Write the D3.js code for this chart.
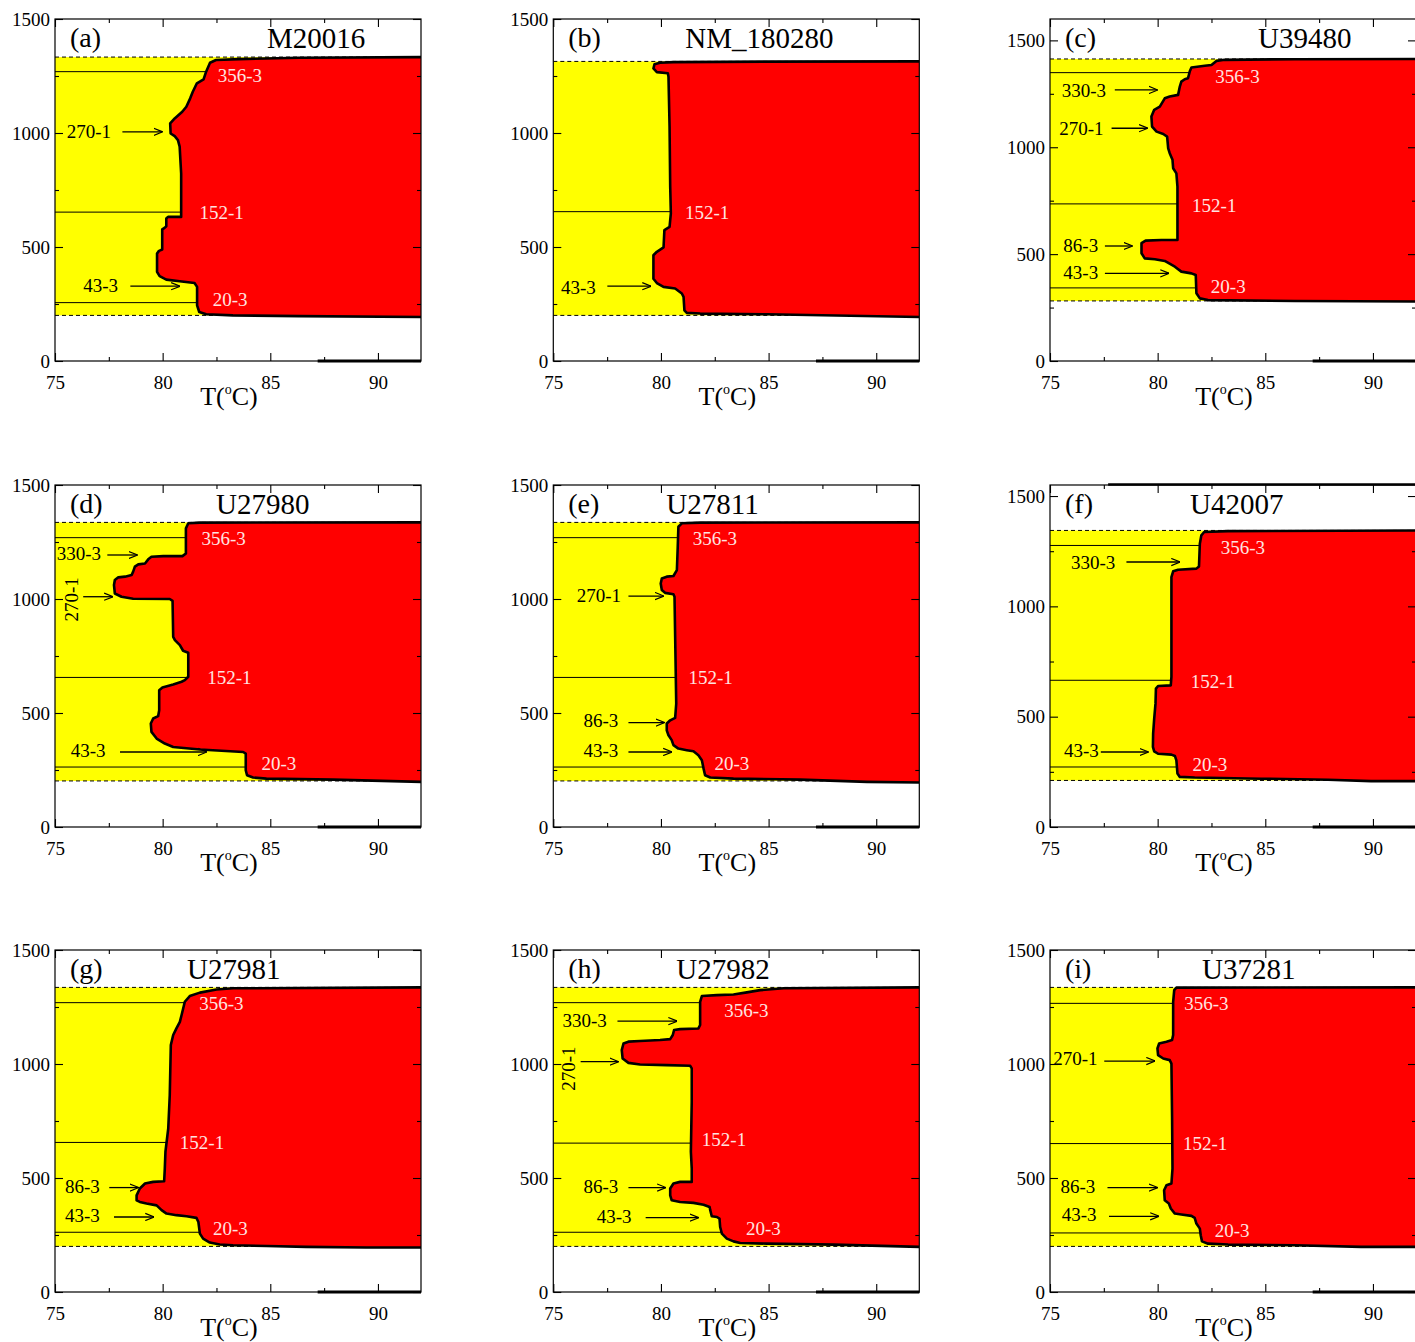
<!DOCTYPE html>
<html>
<head>
<meta charset="utf-8">
<script src="https://cdnjs.cloudflare.com/ajax/libs/d3/7.8.5/d3.min.js"></script>
<style>
  body { margin: 0; background: #fff; }
  text { font-family: "Liberation Serif", "Times New Roman", serif; }
</style>
</head>
<body>
<script>
// panel values
var panelTags = ["(a)", "(b)", "(c)", "(d)", "(e)", "(f)", "(g)", "(h)", "(i)"];
var geneNames = ["M20016", "NM_180280", "U39480", "U27980", "U27811", "U42007", "U27981", "U27982", "U37281"];
var yMaxes = [1500, 1500, 1600, 1500, 1500, 1550, 1500, 1500, 1500];
var bandLow = [200, 200, 281, 202, 202, 211, 200, 200, 200];
var bandHigh = [1333, 1314, 1413, 1336, 1336, 1344, 1336, 1336, 1336];
var refLines = [[1269, 653, 256], [655], [1349, 735, 342], [1269, 656, 263], [1269, 656, 263],
                [1276, 665, 272], [1269, 656, 262], [1269, 653, 262], [1266, 651, 259]];
var titleT = [84.85, 81.13, 84.66, 82.48, 80.25, 81.5, 81.13, 80.71, 82.06];

var xTicks = [75, 80, 85, 90];
var xMinor = [77.5, 82.5, 87.5];
var yTicks = [0, 500, 1000, 1500];
var yMinor = [250, 750, 1250];

// melting boundary (T, length) : bottom edge -> left edge -> top edge
var boundaryA = [[92,193],[86.34,197],[83.26,200],[82.02,205],[81.7,215],[81.6,244],[81.6,325],[81.48,342],[80.79,350],[80.17,357],[79.86,372],[79.74,391],[79.74,471],[79.83,483],[79.98,489],[79.98,577],[80.09,584],[80.17,591],[80.17,625],[80.25,632],[80.86,632],[80.86,822],[80.79,940],[80.71,969],[80.56,986],[80.37,998],[80.35,1042],[80.56,1064],[80.91,1093],[81.1,1115],[81.28,1152],[81.4,1181],[81.59,1218],[81.9,1235],[82.02,1269],[82.2,1308],[82.48,1320],[83.56,1324],[86.34,1330],[92,1333]];
var boundaryB = [[92,193],[84.92,205],[81.82,208],[81.2,211],[81.09,222],[81.05,281],[80.97,296],[80.66,318],[80.12,325],[79.81,342],[79.65,361],[79.65,464],[79.81,479],[80.12,498],[80.16,574],[80.4,588],[80.46,647],[80.43,764],[80.4,1027],[80.35,1247],[80.32,1262],[79.81,1267],[79.65,1283],[79.7,1301],[79.96,1308],[80.58,1311],[84.92,1313],[92,1314]];
var boundaryC = [[92,278],[86.36,281],[82.34,285],[81.96,293],[81.8,317],[81.77,402],[81.57,410],[81.1,418],[80.8,441],[80.33,468],[79.87,476],[79.4,480],[79.25,504],[79.25,551],[79.44,563],[80.18,566],[80.92,566],[80.92,816],[80.87,878],[80.72,902],[80.69,941],[80.56,972],[80.49,995],[80.44,1050],[80.26,1062],[79.95,1073],[79.74,1097],[79.71,1144],[79.84,1175],[80.1,1190],[80.33,1229],[80.56,1237],[80.95,1245],[81.03,1284],[81.1,1307],[81.26,1318],[81.41,1323],[81.49,1354],[81.57,1373],[82.19,1381],[82.5,1385],[82.73,1404],[83.11,1409],[86.36,1412],[92,1413]];
var boundaryD = [[92,198],[87.91,208],[84.82,212],[84.2,217],[83.92,227],[83.86,249],[83.86,322],[83.74,329],[81.73,340],[80.49,351],[80.1,366],[79.72,388],[79.48,417],[79.45,454],[79.56,476],[79.79,486],[79.84,512],[79.84,600],[79.99,612],[80.49,625],[80.88,637],[81.03,644],[81.19,659],[81.19,764],[80.95,773],[80.8,798],[80.57,820],[80.49,834],[80.46,992],[80.33,1000],[78.63,1001],[78.09,1010],[77.78,1024],[77.74,1061],[77.78,1083],[77.94,1095],[78.25,1098],[78.56,1105],[78.63,1120],[78.71,1142],[78.87,1152],[79.18,1156],[79.33,1174],[79.48,1185],[80.03,1188],[80.92,1188],[81.08,1200],[81.08,1310],[81.19,1332],[81.73,1335],[92,1336]];
var boundaryE = [[92,195],[89.57,198],[86.47,208],[83.37,212],[82.29,217],[82.05,227],[81.98,256],[81.9,293],[81.74,315],[81.51,332],[81.2,337],[80.81,344],[80.58,359],[80.5,381],[80.35,402],[80.27,424],[80.27,454],[80.43,468],[80.66,479],[80.71,541],[80.66,834],[80.63,1010],[80.58,1021],[80.19,1027],[80.04,1039],[79.99,1068],[80.04,1090],[80.27,1098],[80.58,1101],[80.74,1127],[80.78,1229],[80.81,1317],[80.97,1332],[81.82,1335],[92,1336]];
var boundaryF = [[92,208],[89.91,208],[87.91,214],[84.81,219],[81.72,224],[81.03,227],[80.92,242],[80.87,302],[80.8,322],[80.64,328],[80.02,332],[79.84,343],[79.78,363],[79.79,423],[79.84,491],[79.9,559],[79.92,627],[80.02,639],[80.61,642],[80.64,680],[80.64,1133],[80.72,1159],[80.95,1166],[81.8,1171],[81.92,1181],[81.96,1284],[82.03,1322],[82.16,1337],[83.27,1341],[92,1344]];
var boundaryG = [[92,195],[89.46,195],[86.67,198],[84.82,202],[83.27,205],[82.65,208],[82.19,217],[81.88,234],[81.73,256],[81.66,307],[81.57,325],[81.11,332],[80.64,337],[80.18,344],[79.95,359],[79.72,380],[79.25,388],[78.94,395],[78.79,402],[78.79,424],[78.94,454],[79.18,476],[79.56,483],[80.07,486],[80.1,541],[80.13,615],[80.26,717],[80.33,863],[80.38,1083],[80.49,1127],[80.64,1156],[80.8,1185],[80.88,1215],[81.03,1273],[81.26,1298],[81.73,1313],[82.5,1327],[83.27,1332],[92,1336]];
var boundaryH = [[92,198],[91.12,200],[88.02,208],[84.92,212],[83.68,215],[83.37,222],[83.06,234],[82.83,256],[82.75,285],[82.72,322],[82.6,329],[82.36,332],[82.29,359],[82.26,373],[81.98,383],[81.51,391],[80.89,395],[80.5,402],[80.43,424],[80.43,454],[80.58,476],[80.89,483],[81.43,483],[81.43,541],[81.39,615],[81.43,834],[81.43,981],[81.36,992],[80.27,995],[79.03,998],[78.49,1005],[78.22,1024],[78.18,1061],[78.26,1090],[78.49,1098],[79.03,1101],[79.96,1105],[80.43,1109],[80.55,1127],[80.61,1149],[80.89,1153],[81.74,1156],[81.82,1171],[81.82,1273],[81.9,1298],[82.6,1302],[83.37,1305],[83.99,1314],[84.61,1324],[85.7,1332],[92,1336]];
var boundaryI = [[92,198],[89.45,198],[86.36,205],[83.27,208],[82.34,212],[82.06,222],[82.0,249],[81.96,278],[81.8,300],[81.72,325],[81.57,334],[81.1,340],[80.8,344],[80.61,366],[80.52,388],[80.33,402],[80.3,446],[80.41,468],[80.64,476],[80.69,541],[80.67,768],[80.64,1002],[80.56,1017],[80.26,1024],[80.02,1039],[79.99,1068],[80.07,1090],[80.41,1098],[80.67,1105],[80.72,1127],[80.72,1273],[80.77,1324],[80.87,1335],[92,1336]];
var boundaries = [boundaryA, boundaryB, boundaryC, boundaryD, boundaryE, boundaryF, boundaryG, boundaryH, boundaryI];

// domain labels: text, T, length, white?, rotated?
var labelsA = [["356-3",82.56,1225,1],["270-1",75.54,976,0],["152-1",81.71,625,1],["43-3",76.31,303,0],["20-3",82.33,240,1]];
var labelsB = [["152-1",81.12,625,1],["43-3",75.36,296,0]];
var labelsC = [["356-3",82.68,1300,1],["330-3",75.54,1237,0],["270-1",75.43,1058,0],["152-1",81.6,699,1],["86-3",75.62,512,0],["43-3",75.62,382,0],["20-3",82.47,317,1]];
var labelsD = [["356-3",81.8,1237,1],["330-3",75.08,1171,0],["270-1",75.77,998,0,1],["152-1",82.07,629,1],["43-3",75.73,307,0],["20-3",84.59,249,1]];
var labelsE = [["356-3",81.48,1237,1],["270-1",76.09,988,0],["152-1",81.28,629,1],["86-3",76.4,439,0],["43-3",76.4,307,0],["20-3",82.49,249,1]];
var labelsF = [["356-3",82.93,1239,1],["330-3",75.97,1171,0],["152-1",81.54,631,1],["43-3",75.65,317,0],["20-3",81.62,254,1]];
var labelsG = [["356-3",81.7,1237,1],["152-1",80.8,629,1],["86-3",75.46,435,0],["43-3",75.46,307,0],["20-3",82.34,249,1]];
var labelsH = [["356-3",82.94,1207,1],["330-3",75.43,1163,0],["270-1",75.7,980,0,1],["152-1",81.9,641,1],["86-3",76.4,435,0],["43-3",77.02,304,0],["20-3",83.95,252,1]];
var labelsI = [["356-3",81.23,1237,1],["270-1",75.15,994,0],["152-1",81.18,622,1],["86-3",75.49,436,0],["43-3",75.54,310,0],["20-3",82.65,242,1]];
var labels = [labelsA, labelsB, labelsC, labelsD, labelsE, labelsF, labelsG, labelsH, labelsI];

// arrows: T start, T end, length
var arrowsA = [[78.13,79.98,1005],[78.5,80.79,328]];
var arrowsB = [[77.51,79.53,328]];
var arrowsC = [[78.01,79.99,1268],[77.86,79.53,1089],[77.55,78.82,538],[77.55,80.52,410]];
var arrowsD = [[77.43,78.82,1193],[76.31,77.68,1010],[78.02,82.04,329]];
var arrowsE = [[78.49,80.12,1013],[78.49,80.15,458],[78.49,80.5,329]];
var arrowsF = [[78.55,81.03,1201],[77.36,79.56,340]];
var arrowsG = [[77.52,78.87,458],[77.74,79.59,329]];
var arrowsH = [[77.98,80.74,1188],[76.27,78.02,1010],[78.49,80.22,458],[79.29,81.74,326]];
var arrowsI = [[77.52,79.87,1013],[77.67,79.99,458],[77.74,80.05,332]];
var arrows = [arrowsA, arrowsB, arrowsC, arrowsD, arrowsE, arrowsF, arrowsG, arrowsH, arrowsI];

var w = 1415, h = 1342;
var colLeft = [55, 553.3, 1050];
var rowTop = [19, 485, 950];
var pw = 366, ph = 342;

var svg = d3.select("body").append("svg")
    .attr("width", w)
    .attr("height", h);

var defs = svg.append("defs");
defs.append("marker")
    .attr("id", "arr")
    .attr("viewBox", "0 -5 10 10")
    .attr("refX", 9.5).attr("refY", 0)
    .attr("markerUnits", "userSpaceOnUse")
    .attr("markerWidth", 9).attr("markerHeight", 9)
    .attr("orient", "auto")
    .append("path")
    .attr("d", "M0,-4L10,0L0,4")
    .attr("fill", "none")
    .attr("stroke", "#000")
    .attr("stroke-width", 1.3);

panelTags.forEach(function(tag, i) {
  var left = colLeft[i % 3], top = rowTop[Math.floor(i / 3)];
  var x = d3.scaleLinear().domain([75, 92]).range([left, left + pw]);
  var y = d3.scaleLinear().domain([0, yMaxes[i]]).range([top + ph, top]);
  var g = svg.append("g");

  defs.append("clipPath").attr("id", "clip" + i)
    .append("rect").attr("x", left).attr("y", top).attr("width", pw).attr("height", ph);

  var plot = g.append("g").attr("clip-path", "url(#clip" + i + ")");

  // yellow band
  plot.append("rect")
      .attr("x", x(75)).attr("width", x(92) - x(75))
      .attr("y", y(bandHigh[i])).attr("height", y(bandLow[i]) - y(bandHigh[i]))
      .attr("fill", "#ffff00");

  plot.selectAll(".dash")
      .data([bandLow[i], bandHigh[i]])
      .enter().append("line")
      .attr("x1", x(75)).attr("x2", x(92))
      .attr("y1", function(d) { return y(d); })
      .attr("y2", function(d) { return y(d); })
      .attr("stroke", "#000").attr("stroke-width", 1)
      .attr("stroke-dasharray", "4,3");

  plot.selectAll(".ref")
      .data(refLines[i])
      .enter().append("line")
      .attr("x1", x(75)).attr("x2", x(92))
      .attr("y1", function(d) { return y(d); })
      .attr("y2", function(d) { return y(d); })
      .attr("stroke", "#000").attr("stroke-width", 1);

  var line = d3.line()
      .x(function(d) { return x(d[0]); })
      .y(function(d) { return y(d[1]); });

  plot.append("path")
      .attr("d", line(boundaries[i]) + "Z")
      .attr("fill", "#ff0000");
  plot.append("path")
      .attr("d", line(boundaries[i]))
      .attr("fill", "none")
      .attr("stroke", "#000")
      .attr("stroke-width", 2.6)
      .attr("stroke-linejoin", "round");

  // labels
  labels[i].forEach(function(d) {
    var t = g.append("text")
        .attr("font-size", 19)
        .attr("fill", d[3] ? "#ffe4e1" : "#000")
        .text(d[0]);
    if (d[4]) {
      t.attr("text-anchor", "middle")
       .attr("dy", "0.35em")
       .attr("transform", "translate(" + x(d[1]) + "," + y(d[2]) + ") rotate(-90)");
    } else {
      t.attr("x", x(d[1])).attr("y", y(d[2]));
    }
  });

  g.selectAll(".arrow")
      .data(arrows[i])
      .enter().append("line")
      .attr("x1", function(d) { return x(d[0]); })
      .attr("x2", function(d) { return x(d[1]); })
      .attr("y1", function(d) { return y(d[2]); })
      .attr("y2", function(d) { return y(d[2]); })
      .attr("stroke", "#000").attr("stroke-width", 1.3)
      .attr("marker-end", "url(#arr)");

  // thick segments on the frame
  g.append("line")
      .attr("x1", x(87.2)).attr("x2", x(92))
      .attr("y1", y(0)).attr("y2", y(0))
      .attr("stroke", "#000").attr("stroke-width", 3);
  if (i == 5) {
    g.append("line")
        .attr("x1", x(77.7)).attr("x2", x(92))
        .attr("y1", y(yMaxes[i]) - 0.5).attr("y2", y(yMaxes[i]) - 0.5)
        .attr("stroke", "#000").attr("stroke-width", 2.6);
  }

  // frame
  g.append("rect")
      .attr("x", left).attr("y", top).attr("width", pw).attr("height", ph)
      .attr("fill", "none").attr("stroke", "#000").attr("stroke-width", 1.2);

  function clean(a) { a.select(".domain").remove(); a.selectAll("line").attr("stroke-width", 1.1); }

  g.append("g").attr("transform", "translate(0," + (top + ph) + ")")
      .call(d3.axisBottom(x).tickValues(xTicks).tickSize(-8).tickPadding(15).tickFormat(d3.format("d")))
      .call(clean)
      .call(function(a) { a.selectAll("text").attr("font-size", 19).attr("font-family", "Liberation Serif").attr("fill", "#000"); });
  g.append("g").attr("transform", "translate(0," + (top + ph) + ")")
      .call(d3.axisBottom(x).tickValues(xMinor).tickSize(-4).tickFormat(""))
      .call(clean);
  g.append("g").attr("transform", "translate(0," + top + ")")
      .call(d3.axisTop(x).tickValues(xTicks).tickSize(-8).tickFormat(""))
      .call(clean);
  g.append("g").attr("transform", "translate(0," + top + ")")
      .call(d3.axisTop(x).tickValues(xMinor).tickSize(-4).tickFormat(""))
      .call(clean);

  g.append("g").attr("transform", "translate(" + left + ",0)")
      .call(d3.axisLeft(y).tickValues(yTicks).tickSize(-8).tickPadding(5).tickFormat(d3.format("d")))
      .call(clean)
      .call(function(a) { a.selectAll("text").attr("font-size", 19).attr("font-family", "Liberation Serif").attr("fill", "#000"); });
  g.append("g").attr("transform", "translate(" + left + ",0)")
      .call(d3.axisLeft(y).tickValues(yMinor).tickSize(-4).tickFormat(""))
      .call(clean);
  g.append("g").attr("transform", "translate(" + (left + pw) + ",0)")
      .call(d3.axisRight(y).tickValues(yTicks).tickSize(-8).tickFormat(""))
      .call(clean);
  g.append("g").attr("transform", "translate(" + (left + pw) + ",0)")
      .call(d3.axisRight(y).tickValues(yMinor).tickSize(-4).tickFormat(""))
      .call(clean);

  // panel tag and gene name
  g.append("text")
      .attr("x", left + 15).attr("y", top + 28)
      .attr("font-size", 28)
      .text(tag);
  g.append("text")
      .attr("x", x(titleT[i])).attr("y", top + 29)
      .attr("font-size", 29)
      .text(geneNames[i]);

  // axis title T(°C)
  var xt = g.append("text")
      .attr("x", left + 174).attr("y", top + ph + 44)
      .attr("text-anchor", "middle")
      .attr("font-size", 26);
  xt.append("tspan").text("T(");
  xt.append("tspan").attr("font-size", 14).attr("dy", -11).text("o");
  xt.append("tspan").attr("dy", 11).text("C)");
});
</script>
</body>
</html>
